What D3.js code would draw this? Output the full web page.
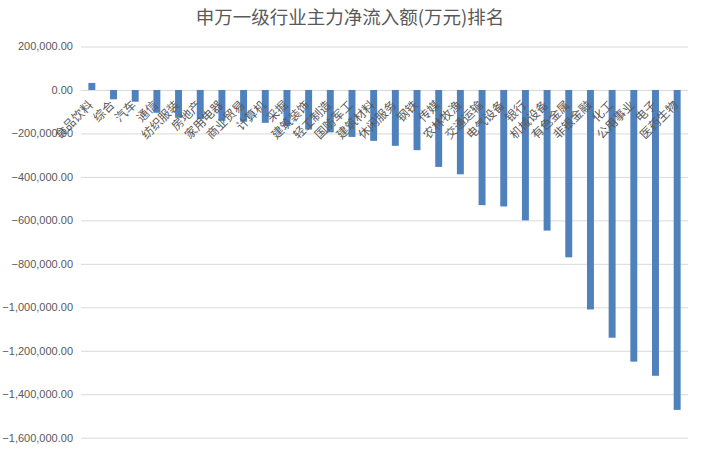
<!DOCTYPE html>
<html>
<head>
<meta charset="utf-8">
<script src="https://cdn.jsdelivr.net/npm/d3@7"></script>
<style>
  body { margin: 0; background: #fff; }
  svg text { font-family: "Noto Sans CJK SC", "Liberation Sans", sans-serif; fill: #595959; }
  .grid line { stroke: #d9d9d9; }
  .grid .domain { display: none; }
</style>
</head>
<body>
<svg width="701" height="451"></svg>
<script>
var industries = ["食品饮料", "综合", "汽车", "通信", "纺织服装", "房地产", "家用电器", "商业贸易",
  "计算机", "采掘", "建筑装饰", "轻工制造", "国防军工", "建筑材料", "休闲服务", "钢铁",
  "传媒", "农林牧渔", "交通运输", "电气设备", "银行", "机械设备", "有色金属", "非银金融",
  "化工", "公用事业", "电子", "医药生物"]
var netInflow = [32300, -43000, -54000, -105000, -128000, -134000, -142000, -146000,
  -151000, -166000, -182000, -195000, -216000, -234000, -257000, -277000,
  -354000, -388000, -530000, -536000, -600000, -647000, -770000, -1010000,
  -1140000, -1250000, -1315000, -1472000]
var yTicks = [200000, 0, -200000, -400000, -600000, -800000, -1000000, -1200000, -1400000, -1600000]
var title = "申万一级行业主力净流入额(万元)排名"

var svg = d3.select("svg"),
    plotLeft = 81, plotRight = 688, plotTop = 46.5, plotBottom = 437.7

var x = d3.scaleBand()
    .domain(industries)
    .range([plotLeft, plotRight])
    .paddingInner(0.68)
    .paddingOuter(0.34)

var y = d3.scaleLinear()
    .domain([-1600000, 200000])
    .range([plotBottom, plotTop])

svg.append("text")
    .attr("x", 350)
    .attr("y", 24)
    .attr("text-anchor", "middle")
    .style("font-size", "18.5px")
    .text(title)

// gridlines
svg.append("g")
    .attr("class", "grid")
    .attr("transform", "translate(" + plotLeft + ",0)")
    .call(d3.axisRight(y).tickValues(yTicks).tickSize(plotRight - plotLeft).tickFormat(""))

// y labels
var fmt = d3.format(",.2f")
svg.append("g")
    .selectAll("text")
    .data(yTicks)
  .enter().append("text")
    .attr("x", 73)
    .attr("y", function(d) { return y(d); })
    .attr("dy", "0.35em")
    .attr("text-anchor", "end")
    .style("font-family", "'Liberation Sans', Arial, sans-serif")
    .style("font-size", "11px")
    .text(function(d) { return fmt(d); })

// bars
svg.append("g")
    .selectAll("rect")
    .data(industries)
  .enter().append("rect")
    .attr("x", function(d) { return x(d); })
    .attr("width", x.bandwidth())
    .attr("y", function(d, i) { return y(Math.max(0, netInflow[i])); })
    .attr("height", function(d, i) { return Math.abs(y(netInflow[i]) - y(0)); })
    .attr("fill", "#4f81bd")

// category labels, next to the zero axis
svg.append("g")
    .selectAll("text")
    .data(industries)
  .enter().append("text")
    .attr("transform", function(d) {
      return "translate(" + (x(d) + x.bandwidth() / 2 - 5) + "," + (y(0) + 9) + ") rotate(-45)"
    })
    .attr("dy", "0.8em")
    .attr("text-anchor", "end")
    .style("font-size", "12px")
    .text(function(d) { return d; })
</script>
</body>
</html>
